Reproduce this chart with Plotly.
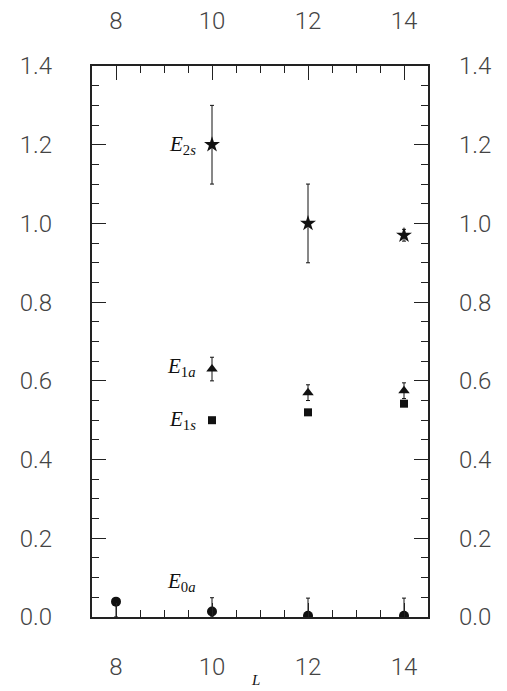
import plotly.graph_objects as go

L = [8, 10, 12, 14]
L3 = [10, 12, 14]

E0a = [0.039, 0.014, 0.003, 0.003]
E0a_plus = [0.0, 0.035, 0.045, 0.045]
E0a_minus = [0.039, 0.014, 0.003, 0.003]

E1s = [0.50, 0.52, 0.542]
E1a = [0.63, 0.57, 0.575]
E1a_err = [0.03, 0.02, 0.02]
E2s = [1.20, 1.00, 0.97]
E2s_err = [0.10, 0.10, 0.015]

W, H = 507, 691
ink = "#111111"
line_col = "#222222"
err_style = dict(color=ink, thickness=1, width=2)

fig = go.Figure()
fig.add_trace(go.Scatter(x=L, y=E0a, mode="markers",
                         marker=dict(symbol="circle", size=10, color=ink),
                         error_y=dict(type="data", symmetric=False, array=E0a_plus,
                                      arrayminus=E0a_minus, **err_style),
                         showlegend=False))
fig.add_trace(go.Scatter(x=L3, y=E1s, mode="markers",
                         marker=dict(symbol="square", size=8, color=ink),
                         showlegend=False))
fig.add_trace(go.Scatter(x=L3, y=E1a, mode="markers",
                         marker=dict(symbol="triangle-up", size=10, color=ink),
                         error_y=dict(type="data", array=E1a_err, **err_style),
                         showlegend=False))
fig.add_trace(go.Scatter(x=L3, y=E2s, mode="markers",
                         marker=dict(symbol="star", size=12, color=ink),
                         error_y=dict(type="data", array=E2s_err, **err_style),
                         showlegend=False))
# invisible traces carrying the tick-label axes
for xa, ya in (("x2", "y2"), ("x3", "y3")):
    fig.add_trace(go.Scatter(x=[L[0]], y=[E0a[0]], xaxis=xa, yaxis=ya,
                             mode="markers", marker=dict(opacity=0),
                             showlegend=False, hoverinfo="skip"))

lab_font = dict(family="Liberation Serif, DejaVu Serif, serif", size=21, color=ink)
labels = [
    ("<i>E</i><sub>2<i>s</i></sub>", L3[0], E2s[0]),
    ("<i>E</i><sub>1<i>a</i></sub>", L3[0], E1a[0] + 0.005),
    ("<i>E</i><sub>1<i>s</i></sub>", L3[0], E1s[0]),
    ("<i>E</i><sub>0<i>a</i></sub>", L[1], E0a[1] + 0.075),
]
for txt, xv, yv in labels:
    fig.add_annotation(x=xv - 0.3, y=yv, text=txt, showarrow=False,
                       xanchor="right", yanchor="middle", font=lab_font)

fig.add_annotation(x=0.5 * (L[0] + L[-1]) - 0.1, xref="x", y=1 / H,
                   yref="paper", text="<i>L</i>", showarrow=False, yanchor="bottom",
                   font=dict(family="Liberation Serif, serif", size=15, color=ink))

tick_font = dict(family="Roboto, Liberation Sans, sans-serif", size=24,
                 color="#444444", weight=300)

xdom = [92 / W, 428 / W]
ydom = [(H - 617) / H, (H - 66) / H]

common_x = dict(range=[7.5, 14.5], tickmode="linear", tick0=8, dtick=2,
                showgrid=False, zeroline=False, automargin=False, tickfont=tick_font)
common_y = dict(range=[0, 1.4], tickmode="linear", tick0=0, dtick=0.2,
                tickformat=".1f", showgrid=False, zeroline=False, automargin=False,
                tickfont=tick_font)
label_only = dict(ticks="", showline=False, anchor="free")

fig.update_layout(
    width=W, height=H,
    margin=dict(l=0, r=0, t=0, b=0, pad=0),
    plot_bgcolor="white", paper_bgcolor="white",
    xaxis=dict(**common_x, domain=xdom, showticklabels=False,
               ticks="inside", ticklen=14, tickwidth=1, tickcolor=line_col,
               showline=True, linecolor=line_col, linewidth=1.5, mirror="allticks",
               minor=dict(dtick=0.5, tick0=7.5, ticks="inside", ticklen=7,
                          tickwidth=1, tickcolor=line_col)),
    yaxis=dict(**common_y, domain=ydom, showticklabels=False,
               ticks="inside", ticklen=14, tickwidth=1, tickcolor=line_col,
               showline=True, linecolor=line_col, linewidth=1.5, mirror="allticks",
               minor=dict(dtick=0.05, tick0=0, ticks="inside", ticklen=7,
                          tickwidth=1, tickcolor=line_col)),
    # tick-label axes placed away from the frame
    xaxis2=dict(**common_x, **label_only, overlaying="x", side="top",
                position=(H - 34) / H),
    yaxis2=dict(**common_y, **label_only, overlaying="y", side="left",
                position=52 / W),
    xaxis3=dict(**common_x, **label_only, overlaying="x", side="bottom",
                position=(H - 650) / H),
    yaxis3=dict(**common_y, **label_only, overlaying="y", side="right",
                position=458 / W),
)

fig.write_html("out.html", config={"displayModeBar": False},
               post_script="document.body.style.margin='0';")
